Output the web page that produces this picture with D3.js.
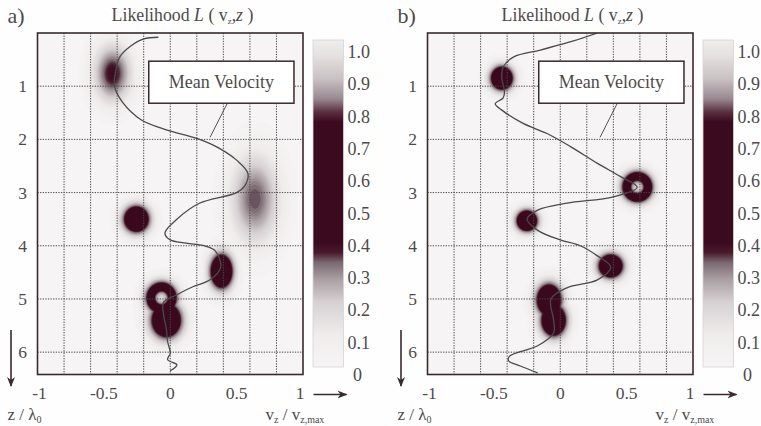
<!DOCTYPE html>
<html><head><meta charset="utf-8">
<script src="https://cdn.jsdelivr.net/npm/d3@7"></script>
<style>body{margin:0;background:#fff}svg{display:block}</style>
</head><body>
<svg id="c" width="761" height="426"></svg>
<script>
// ---------- data ----------
const vzTicks = [-1, -0.5, 0, 0.5, 1];
const vzTickLabels = ["-1", "-0.5", "0", "0.5", "1"];
const zTicks = [1, 2, 3, 4, 5, 6];
const vzGrid = [-0.8, -0.6, -0.4, -0.2, 0, 0.2, 0.4, 0.6, 0.8];
const cbTicks = [0, 0.1, 0.2, 0.3, 0.4, 0.5, 0.6, 0.7, 0.8, 0.9, 1.0];
const cbTickLabels = ["0", "0.1", "0.2", "0.3", "0.4", "0.5", "0.6", "0.7", "0.8", "0.9", "1.0"];
const panelLabels = ["a)", "b)"];
const zDomain = [0, 6.42];

// likelihood peaks: [vz, z, spread vz, spread z, peak likelihood]
const blobsA = [
  [-0.435, 0.76, 0.105, 0.40, 0.385],
  [0.638, 3.12, 0.135, 0.62, 0.335],
  [-0.255, 3.50, 0.077, 0.20, 0.70],
  [0.386, 4.48, 0.068, 0.26, 0.70],
  [-0.066, 4.98, 0.08, 0.205, 0.93],
  [-0.03, 5.40, 0.09, 0.26, 0.72]
];
const blobsB = [
  [-0.44, 0.85, 0.068, 0.18, 0.70],
  [0.581, 2.895, 0.079, 0.197, 0.93],
  [-0.251, 3.53, 0.064, 0.16, 0.70],
  [0.38, 4.38, 0.075, 0.18, 0.70],
  [-0.085, 5.02, 0.075, 0.24, 0.72],
  [-0.05, 5.40, 0.075, 0.24, 0.72]
];

// mean velocity profiles: [vz, z]
const meanA = [
  [-0.09, 0.08], [-0.2, 0.11], [-0.3, 0.25], [-0.38, 0.45], [-0.41, 0.7], [-0.42, 1.0],
  [-0.36, 1.3], [-0.22, 1.63], [-0.03, 1.82], [0.2, 1.98], [0.35, 2.14], [0.5, 2.39],
  [0.585, 2.64], [0.56, 2.88], [0.5, 3.0], [0.22, 3.2], [0.05, 3.5], [-0.04, 3.76],
  [0.0, 3.89], [0.12, 3.95], [0.27, 4.01], [0.34, 4.1], [0.38, 4.4], [0.3, 4.64],
  [0.17, 4.77], [0.05, 4.92], [-0.05, 5.06], [-0.05, 5.3], [-0.03, 5.55], [-0.02, 5.8],
  [0.0, 6.02], [-0.02, 6.14], [0.05, 6.24], [0.0, 6.35]
];
const meanB = [
  [0.28, 0.0], [0.1, 0.15], [-0.15, 0.32], [-0.35, 0.45], [-0.43, 0.64], [-0.44, 0.85],
  [-0.42, 1.1], [-0.43, 1.22], [-0.49, 1.33], [-0.44, 1.45], [-0.28, 1.70], [-0.10, 1.89],
  [0.08, 2.14], [0.28, 2.45], [0.455, 2.70], [0.58, 2.9], [0.40, 3.08], [0.05, 3.2],
  [-0.17, 3.33], [-0.25, 3.5], [-0.17, 3.71], [0.0, 3.89], [0.15, 4.0], [0.28, 4.19],
  [0.38, 4.4], [0.28, 4.64], [0.05, 4.79], [-0.07, 5.0], [-0.05, 5.4], [-0.05, 5.64],
  [-0.17, 5.88], [-0.38, 6.07], [-0.39, 6.16], [-0.30, 6.26], [-0.17, 6.39]
];
const blobSets = [blobsA, blobsB];
const meanSets = [meanA, meanB];
// annotation box (data coords) and leader tip
const boxVz = [-0.162, 0.932], boxZ = [0.53, 1.32];
const leader = [[[0.43, 1.32], [0.30, 1.96]], [[0.43, 1.32], [0.30, 1.96]]];

// ---------- style / layout ----------
const svg = d3.select("#c");
const serif = "Liberation Serif, Times New Roman, DejaVu Serif, serif";
const txt = "#4e4a4a";
const frameCol = "#3a2a2c";
const panelX = [37.5, 427.5], panelW = 265.5;
const plotTop = 33, plotBottom = 374.5;
const cbOff = 275.5, cbW = 30.5, cbTop = 40, cbBot = 367;

const cmap = d3.scaleLinear()
  .domain([0, 0.1, 0.2, 0.27, 0.32, 0.35, 0.38, 0.75, 0.78, 0.82, 0.88, 0.95, 1.0])
  .range(["#f6f4f4", "#efecec", "#d6d0d2", "#a99ea2", "#786870", "#4a1a2c", "#3c0a1e",
          "#3c0a1e", "#5a3040", "#988890", "#c8c0c2", "#e4e0e0", "#efeded"])
  .clamp(true);

svg.append("rect").attr("width", 761).attr("height", 426).attr("fill", "#fefefe");

const defs = svg.append("defs");
const grad = defs.append("linearGradient").attr("id", "cbg")
  .attr("x1", 0).attr("y1", 1).attr("x2", 0).attr("y2", 0);
d3.range(0, 1.0001, 0.01).forEach(v => grad.append("stop")
  .attr("offset", v).attr("stop-color", cmap(v)));

const marker = defs.append("marker").attr("id", "ah").attr("viewBox", "0 0 10 10")
  .attr("refX", 9).attr("refY", 5).attr("markerWidth", 10).attr("markerHeight", 10)
  .attr("markerUnits", "userSpaceOnUse").attr("orient", "auto");
marker.append("path").attr("d", "M0,1 L10,5 L0,9 L3,5 Z").attr("fill", "#3a2a2c");

[0, 1].forEach(p => {
  const x0 = panelX[p];
  const x = d3.scaleLinear().domain([-1, 1]).range([x0, x0 + panelW]);
  const y = d3.scaleLinear().domain(zDomain).range([plotTop, plotBottom]);
  const g = svg.append("g");
  const clipId = "clip" + p;
  defs.append("clipPath").attr("id", clipId).append("rect")
    .attr("x", x(-1)).attr("y", y(zDomain[0])).attr("width", x(1) - x(-1)).attr("height", y(zDomain[1]) - y(zDomain[0]));

  // background
  g.append("rect").attr("x", x(-1)).attr("y", y(0)).attr("width", x(1) - x(-1))
    .attr("height", y(zDomain[1]) - y(0)).attr("fill", cmap(0));

  // likelihood field on a grid
  const cell = 1.5;
  const nx = Math.ceil((x(1) - x(-1)) / cell), ny = Math.ceil((y(zDomain[1]) - y(0)) / cell);
  const blobs = blobSets[p];
  const vals = new Array(nx * ny);
  for (let j = 0; j < ny; j++) {
    const zv = y.invert(y(0) + (j + 0.5) * cell);
    for (let i = 0; i < nx; i++) {
      const vv = x.invert(x(-1) + (i + 0.5) * cell);
      let m = 0;
      for (const b of blobs) {
        const dx = (vv - b[0]) / b[2], dz = (zv - b[1]) / b[3];
        const val = b[4] * Math.exp(-0.5 * (dx * dx + dz * dz));
        if (val > m) m = val;
      }
      vals[j * nx + i] = m;
    }
  }
  const thresholds = d3.range(0.02, 1.0, 0.015);
  const contours = d3.contours().size([nx, ny]).thresholds(thresholds)(vals);
  const proj = d3.geoTransform({
    point: function (px, py) { this.stream.point(x(-1) + px * cell, y(0) + py * cell); }
  });
  const path = d3.geoPath(proj);
  g.append("g").attr("clip-path", `url(#${clipId})`).selectAll("path").data(contours).join("path")
    .attr("d", path).attr("fill", d => cmap(d.value + 0.0075));

  // grid
  const grid = g.append("g").attr("stroke", "#4a4a4a").attr("stroke-width", 1)
    .attr("stroke-dasharray", "1.3,1.3").attr("fill", "none");
  grid.selectAll(".gv").data(vzGrid).join("line")
    .attr("x1", d => x(d)).attr("x2", d => x(d)).attr("y1", y(0)).attr("y2", y(zDomain[1]));
  grid.selectAll(".gh").data(zTicks).join("line")
    .attr("x1", x(-1)).attr("x2", x(1)).attr("y1", d => y(d)).attr("y2", d => y(d));

  // mean velocity curve
  const line = d3.line().x(d => x(d[0])).y(d => y(d[1])).curve(d3.curveCatmullRom.alpha(0.5));
  g.append("path").attr("d", line(meanSets[p])).attr("fill", "none")
    .attr("stroke", "#4a4a4a").attr("stroke-width", 1.3).attr("clip-path", `url(#${clipId})`);

  // frame
  g.append("rect").attr("x", x(-1)).attr("y", y(0)).attr("width", x(1) - x(-1))
    .attr("height", y(zDomain[1]) - y(0)).attr("fill", "none")
    .attr("stroke", frameCol).attr("stroke-width", 1.6);

  // annotation
  g.append("line").attr("x1", x(leader[p][0][0])).attr("y1", y(leader[p][0][1]))
    .attr("x2", x(leader[p][1][0])).attr("y2", y(leader[p][1][1]))
    .attr("stroke", "#555").attr("stroke-width", 1);
  g.append("rect").attr("x", x(boxVz[0])).attr("y", y(boxZ[0]))
    .attr("width", x(boxVz[1]) - x(boxVz[0])).attr("height", y(boxZ[1]) - y(boxZ[0]))
    .attr("fill", "#fff").attr("stroke", frameCol).attr("stroke-width", 1.5);
  g.append("text").attr("x", (x(boxVz[0]) + x(boxVz[1])) / 2).attr("y", (y(boxZ[0]) + y(boxZ[1])) / 2 + 6)
    .attr("text-anchor", "middle").attr("font-family", serif).attr("font-size", 18)
    .attr("fill", txt).text("Mean Velocity");

  // x tick labels
  g.selectAll(".xt").data(vzTicks).join("text")
    .attr("x", (d, i) => x(d) + (i === 0 ? 2 : (i === 4 ? -3 : 0))).attr("y", 399)
    .attr("text-anchor", "middle").attr("font-family", serif).attr("font-size", 17.5)
    .attr("fill", txt).text((d, i) => vzTickLabels[i]);
  // z tick labels
  g.selectAll(".yt").data(zTicks).join("text")
    .attr("x", x0 - 15).attr("y", d => y(d) + 6)
    .attr("text-anchor", "middle").attr("font-family", serif).attr("font-size", 17.5)
    .attr("fill", txt).text(d => d);

  // arrows
  g.append("line").attr("x1", x0 - 26.5).attr("x2", x0 - 26.5).attr("y1", 330).attr("y2", 386)
    .attr("stroke", "#3a2a2c").attr("stroke-width", 1.6).attr("marker-end", "url(#ah)");
  g.append("line").attr("x1", x0 + 276).attr("x2", x0 + 309).attr("y1", 394.5).attr("y2", 394.5)
    .attr("stroke", "#3a2a2c").attr("stroke-width", 1.6).attr("marker-end", "url(#ah)");

  // axis labels
  const zl = g.append("text").attr("x", x0 - 30).attr("y", 420).attr("font-family", serif)
    .attr("font-size", 17).attr("fill", txt);
  zl.append("tspan").text("z / λ");
  zl.append("tspan").attr("font-size", 10).attr("dy", 3).text("0");
  const vl = g.append("text").attr("x", x0 + 228).attr("y", 420).attr("font-family", serif)
    .attr("font-size", 17).attr("fill", txt);
  vl.append("tspan").text("v");
  vl.append("tspan").attr("font-size", 10).attr("dy", 3).text("z");
  vl.append("tspan").attr("dy", -3).text(" / v");
  vl.append("tspan").attr("font-size", 10).attr("dy", 3).text("z,max");

  // title
  const t = g.append("text").attr("x", x0 + 145).attr("y", 21).attr("text-anchor", "middle")
    .attr("font-family", serif).attr("font-size", 17.8).attr("fill", txt);
  t.append("tspan").text("Likelihood ");
  t.append("tspan").attr("font-style", "italic").text("L");
  t.append("tspan").text(" ( v");
  t.append("tspan").attr("font-size", 9).attr("dy", 3).text("z");
  t.append("tspan").attr("dy", -3).text(",");
  t.append("tspan").attr("font-style", "italic").text("z");
  t.append("tspan").text(" )");

  g.append("text").attr("x", x0 - 30).attr("y", 23).attr("font-family", serif)
    .attr("font-size", 22).attr("fill", txt).text(panelLabels[p]);

  // colorbar
  const cbX = x0 + cbOff;
  const cy = d3.scaleLinear().domain([0, 1]).range([375, 52]);
  g.append("rect").attr("x", cbX).attr("y", cbTop).attr("width", cbW).attr("height", cbBot - cbTop)
    .attr("fill", "url(#cbg)").attr("stroke", "#d8d4d4").attr("stroke-width", 0.8);
  g.selectAll(".cbt").data(cbTicks).join("text")
    .attr("x", cbX + cbW + 4).attr("y", d => cy(d) + 6)
    .attr("text-anchor", (d, i) => i === 0 ? "middle" : "start")
    .attr("dx", (d, i) => i === 0 ? 10 : 0)
    .attr("font-family", serif).attr("font-size", 18).attr("fill", txt)
    .text((d, i) => cbTickLabels[i]);
});
</script>
</body></html>
